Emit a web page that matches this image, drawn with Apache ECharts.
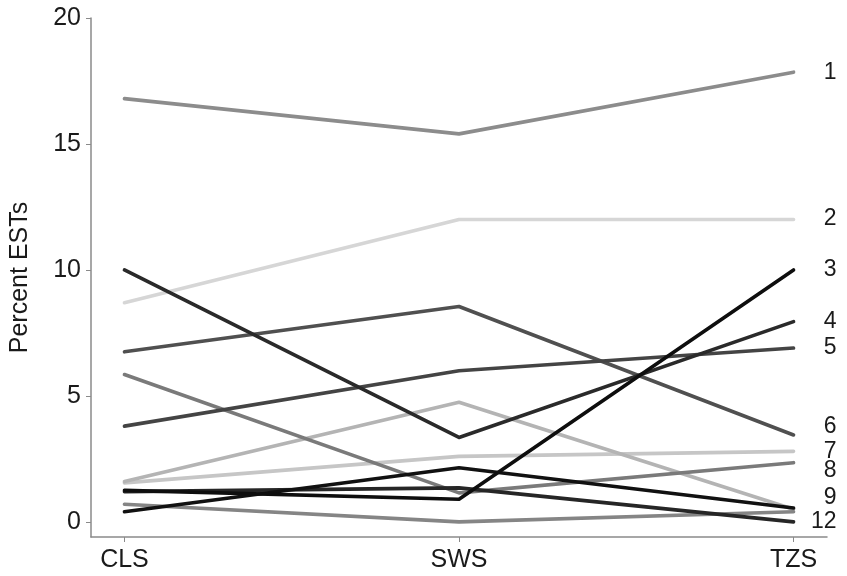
<!DOCTYPE html>
<html>
<head>
<meta charset="utf-8">
<script src="https://cdn.jsdelivr.net/npm/echarts@6/dist/echarts.min.js"></script>
<style>
  html, body { margin: 0; padding: 0; background: #fff; }
  #chart { width: 847px; height: 576px; }
</style>
</head>
<body>
<div id="chart"></div>
<script>
// Tissue libraries along the x axis
const categories = ['CLS', 'SWS', 'TZS'];
const yTicks = [0, 5, 10, 15, 20];

// Percent of ESTs per gene group in each library (CLS, SWS, TZS)
const group1 = [16.8, 15.4, 17.85];
const group2 = [8.7, 12.0, 12.0];
const group3 = [1.25, 0.9, 10.0];
const group4 = [10.0, 3.35, 7.95];
const group5 = [3.8, 6.0, 6.9];
const group6 = [6.75, 8.55, 3.45];
const group7 = [1.55, 2.6, 2.8];
const group8 = [5.85, 1.15, 2.35];
const group9 = [0.4, 2.15, 0.55];
const group10 = [1.6, 4.75, 0.5];
const group11 = [0.7, 0.0, 0.4];
const group12 = [1.2, 1.35, 0.0];

const groups = [
  { name: '1',  values: group1,  color: '#8c8c8c', label: true,  dy: 0 },
  { name: '2',  values: group2,  color: '#d6d6d6', label: true,  dy: -1 },
  { name: '7',  values: group7,  color: '#c6c6c6', label: true,  dy: 0 },
  { name: '10', values: group10, color: '#b4b4b4', label: false, dy: 0 },
  { name: '11', values: group11, color: '#858585', label: false, dy: 0 },
  { name: '8',  values: group8,  color: '#7a7a7a', label: true,  dy: 8 },
  { name: '6',  values: group6,  color: '#505050', label: true,  dy: -8 },
  { name: '5',  values: group5,  color: '#444444', label: true,  dy: 0 },
  { name: '12', values: group12, color: '#262626', label: true,  dy: 0 },
  { name: '4',  values: group4,  color: '#2a2a2a', label: true,  dy: 0 },
  { name: '9',  values: group9,  color: '#111111', label: true,  dy: -10 },
  { name: '3',  values: group3,  color: '#0e0e0e', label: true,  dy: 0 }
];

const FONT = 'Liberation Sans, Arial, sans-serif';
const TEXT = '#1a1a1a';
const AXIS = '#8a8a8a';

const chart = echarts.init(document.getElementById('chart'), null, { renderer: 'canvas' });

chart.setOption({
  animation: false,
  backgroundColor: '#ffffff',
  grid: { left: 88, right: 20, top: 18, bottom: 39, containLabel: false },
  xAxis: {
    type: 'value',
    min: -0.1,
    max: 2.1,
    axisLine: { show: true, onZero: false, lineStyle: { color: AXIS, width: 1.5 } },
    axisTick: { show: true, customValues: [0, 1, 2], length: 5, lineStyle: { color: AXIS } },
    axisLabel: {
      customValues: [0, 1, 2],
      formatter: v => categories[Math.round(v)],
      color: TEXT, fontFamily: FONT, fontSize: 25, margin: 11
    },
    splitLine: { show: false }
  },
  yAxis: {
    type: 'value',
    min: -0.6,
    max: 20,
    name: 'Percent ESTs',
    nameLocation: 'middle',
    nameGap: 58,
    nameTextStyle: { color: TEXT, fontFamily: FONT, fontSize: 25 },
    axisLine: { show: true, onZero: false, lineStyle: { color: AXIS, width: 1.5 } },
    axisTick: { show: true, customValues: yTicks, length: 5, lineStyle: { color: AXIS } },
    axisLabel: {
      customValues: yTicks,
      color: TEXT, fontFamily: FONT, fontSize: 25, margin: 10
    },
    splitLine: { show: false }
  },
  series: groups.map(g => ({
    type: 'line',
    name: g.name,
    data: g.values.map((v, i) => [i, v]),
    symbol: 'none',
    lineStyle: { color: g.color, width: 3.6, cap: 'round', join: 'round' },
    endLabel: {
      show: g.label,
      formatter: g.name,
      align: 'right',
      verticalAlign: 'middle',
      distance: 0,
      offset: [43, g.dy],
      color: TEXT,
      fontFamily: FONT,
      fontSize: 23
    }
  }))
});
</script>
</body>
</html>
